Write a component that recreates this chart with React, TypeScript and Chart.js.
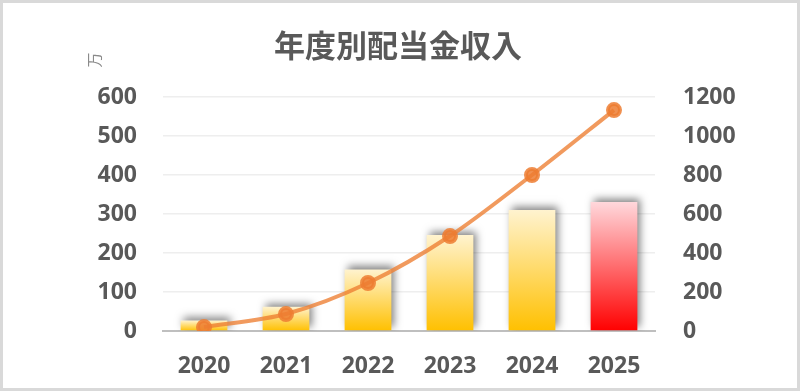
import React, { useEffect, useRef } from "react";
import { Chart, registerables } from "chart.js";

Chart.register(...registerables);

const years = ["2020", "2021", "2022", "2023", "2024", "2025"];
const annualIncome = [27, 62, 158, 246, 310, 331];
const cumulativeIncome = [20, 87, 246, 487, 800, 1133];
const leftTitle = "年度別配当金収入";
const unitLabel = "万";

const titlePlugin = {
  id: "customTitle",
  afterDraw(chart: any) {
    const ctx = chart.ctx;
    ctx.save();
    ctx.fillStyle = "#595959";
    ctx.font = "bold 31px 'Noto Sans CJK JP'";
    ctx.textAlign = "center";
    ctx.textBaseline = "middle";
    ctx.fillText(leftTitle, 398, 45);
    ctx.translate(94, 60);
    ctx.rotate(-Math.PI / 2);
    ctx.font = "15px 'Noto Sans CJK JP'";
    ctx.fillStyle = "#8a8a8a";
    ctx.fillText(unitLabel, 0, 0);
    ctx.restore();
  },
};

const shadowPlugin = {
  id: "barShadow",
  beforeDatasetDraw(chart: any, args: any) {
    if (args.meta.type === "bar") {
      const ctx = chart.ctx;
      ctx.save();
      ctx.shadowColor = "rgba(0,0,0,0.5)";
      ctx.shadowBlur = 8;
      ctx.shadowOffsetX = 3;
      ctx.shadowOffsetY = -3;
    }
  },
  afterDatasetDraw(chart: any, args: any) {
    if (args.meta.type === "bar") {
      chart.ctx.restore();
    }
  },
};

const tickFont = { family: "'Noto Sans', sans-serif", size: 23, weight: "bold" } as any;

export default function App() {
  const ref = useRef<HTMLCanvasElement>(null);
  useEffect(() => {
    const canvas = ref.current!;
    const chart = new Chart(canvas, {
      type: "bar",
      data: {
        labels: years,
        datasets: [
          {
            type: "line",
            data: cumulativeIncome,
            yAxisID: "y2",
            borderColor: "rgba(237,125,49,0.78)",
            backgroundColor: "rgba(237,125,49,0.85)",
            pointBackgroundColor: "rgba(237,125,49,0.85)",
            pointBorderColor: "rgba(237,125,49,0.85)",
            borderWidth: 4,
            pointRadius: 6,
            tension: 0.3,
            order: 0,
          } as any,
          {
            type: "bar",
            data: annualIncome,
            yAxisID: "y",
            order: 1,
            barPercentage: 0.95,
            categoryPercentage: 0.6,
            backgroundColor: (c: any) => {
              const chartObj = c.chart;
              const area = chartObj.chartArea;
              if (!area || c.dataIndex === undefined) return "#FFC000";
              const ys = chartObj.scales.y;
              const top = ys.getPixelForValue(annualIncome[c.dataIndex]);
              const bottom = ys.getPixelForValue(0);
              const g = chartObj.ctx.createLinearGradient(0, top, 0, bottom);
              if (c.dataIndex === years.length - 1) {
                g.addColorStop(0, "#FFD8DC");
                g.addColorStop(1, "#FF0000");
              } else {
                g.addColorStop(0, "#FFF3CF");
                g.addColorStop(1, "#FFC000");
              }
              return g;
            },
          } as any,
        ],
      },
      options: {
        animation: false,
        responsive: false,
        layout: { padding: { top: 97, left: 0, right: 0, bottom: 0 } },
        plugins: { legend: { display: false }, tooltip: { enabled: false } },
        scales: {
          x: {
            grid: { display: false, drawTicks: false },
            border: { display: true, color: "#BFBFBF", width: 2 },
            ticks: { color: "#595959", padding: 22, font: tickFont },
            afterFit(s: any) {
              s.height = 60;
            },
          },
          y: {
            position: "left",
            min: 0,
            max: 600,
            ticks: {
              stepSize: 100,
              color: "#595959",
              padding: 26,
              font: tickFont,
              callback: (v: any) => String(v),
            },
            grid: { color: "#EEEEEE", lineWidth: 1.5, drawTicks: false },
            border: { display: false },
            afterFit(s: any) {
              s.width = 163;
            },
          },
          y2: {
            position: "right",
            min: 0,
            max: 1200,
            ticks: {
              stepSize: 200,
              color: "#595959",
              padding: 28,
              font: tickFont,
              callback: (v: any) => String(v),
            },
            grid: { display: false, drawTicks: false },
            border: { display: false },
            afterFit(s: any) {
              s.width = 145;
            },
          },
        },
      },
      plugins: [titlePlugin, shadowPlugin],
    });
    return () => chart.destroy();
  }, []);

  return (
    <div
      style={{
        position: "fixed",
        left: 0,
        top: 0,
        width: 800,
        height: 391,
        background: "#fff",
      }}
    >
      <canvas ref={ref} width={800} height={391} style={{ display: "block" }} />
      <div
        style={{
          position: "absolute",
          inset: 0,
          border: "3px solid #D9D9D9",
          pointerEvents: "none",
        }}
      />
    </div>
  );
}
